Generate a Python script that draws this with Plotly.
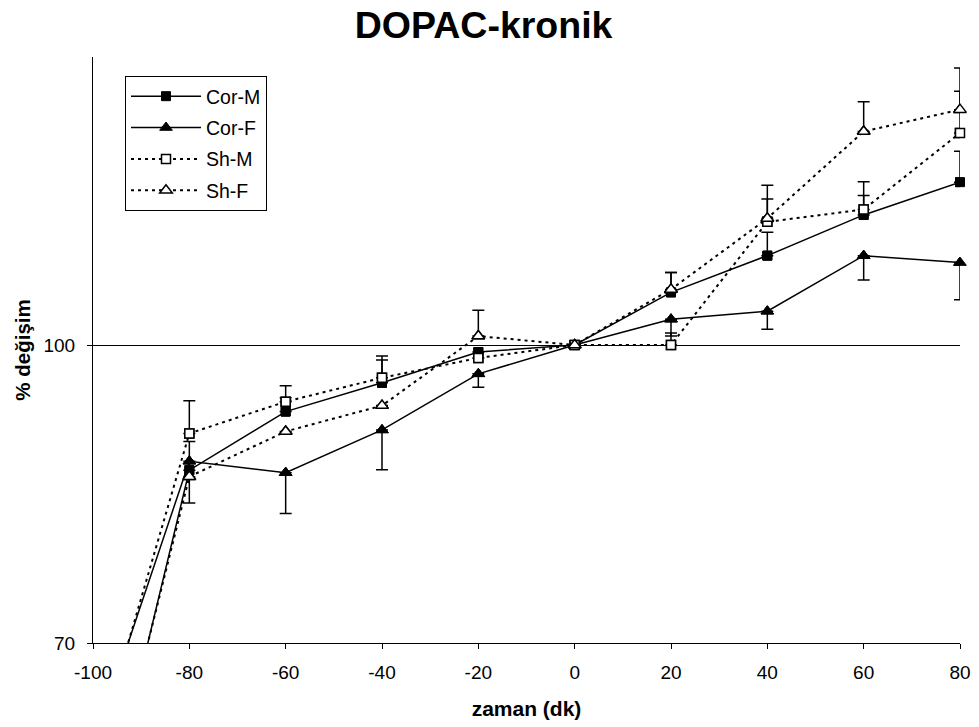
import plotly.graph_objects as go

# ---- data ----
zaman = [-100, -80, -60, -40, -20, 0, 20, 40, 60, 80]
cor_m = [47.0, 87.4, 93.3, 96.2, 99.3, 100.0, 105.3, 109.0, 113.1, 116.4]
cor_f = [59.5, 88.3, 87.15, 91.45, 97.1, 100.0, 102.6, 103.4, 109.0, 108.3]
sh_m = [57.9, 91.1, 94.3, 96.7, 98.7, 100.0, 100.0, 112.4, 113.65, 121.35]
sh_f = [47.8, 86.75, 91.3, 93.9, 100.9, 100.0, 105.6, 112.75, 121.5, 123.7]

# error bars (Cor-F drawn downwards, others upwards)
cor_m_err = [0, 2.9, 1.4, 2.3, 0.0, 0, 2.0, 2.35, 1.95, 3.1]
cor_f_err = [0, 4.2, 4.1, 4.0, 1.35, 0, 1.7, 1.8, 2.45, 3.75]
sh_m_err = [0, 3.3, 1.6, 2.2, 0.0, 0, 1.2, 2.3, 2.8, 4.2]
sh_f_err = [0, 0.0, 0.0, 0.0, 2.6, 0, 1.7, 3.35, 3.0, 4.2]

x_ticks = [-100, -80, -60, -40, -20, 0, 20, 40, 60, 80]
y_ticks = [70, 100]

FONT = "Liberation Sans, Arial, sans-serif"

series = [
    dict(name="Cor-M", y=cor_m, err=cor_m_err, down=False, dash="solid",
         marker=dict(symbol="square", size=9, color="black", line=dict(color="black", width=1))),
    dict(name="Cor-F", y=cor_f, err=cor_f_err, down=True, dash="solid",
         marker=dict(symbol="triangle-up", size=11, color="black", line=dict(color="black", width=1))),
    dict(name="Sh-M", y=sh_m, err=sh_m_err, down=False, dash="3px,4px",
         marker=dict(symbol="square", size=9, color="white", line=dict(color="black", width=1.5))),
    dict(name="Sh-F", y=sh_f, err=sh_f_err, down=False, dash="3px,4px",
         marker=dict(symbol="triangle-up", size=11, color="white", line=dict(color="black", width=1.5))),
]

fig = go.Figure()

# lines (clipped to the plot area), shown in legend
for s in series:
    fig.add_trace(go.Scatter(
        x=zaman, y=s["y"], name=s["name"], mode="lines+markers",
        line=dict(color="black", width=1.5 if s["dash"] == "solid" else 2, dash=s["dash"]),
        marker=s["marker"], cliponaxis=True, showlegend=True, legendgroup=s["name"],
    ))

# markers + error bars (not clipped so edge markers are whole)
for s in series:
    xs = zaman[1:]
    ys = s["y"][1:]
    es = s["err"][1:]
    zeros = [0] * len(es)
    err = dict(type="data", symmetric=False,
               array=zeros if s["down"] else es,
               arrayminus=es if s["down"] else zeros,
               color="black", thickness=1.5, width=6)
    fig.add_trace(go.Scatter(
        x=xs, y=ys, mode="markers", marker=s["marker"], error_y=err,
        cliponaxis=False, showlegend=False, hoverinfo="skip", legendgroup=s["name"],
    ))

fig.update_layout(
    width=979, height=727,
    margin=dict(l=93, r=19, t=57, b=84),
    paper_bgcolor="white", plot_bgcolor="white",
    font=dict(family=FONT, color="black", size=19),
    title=dict(text="<b>DOPAC-kronik</b>", font=dict(size=37.5, family=FONT, color="black"),
               x=0.494, xref="container", xanchor="center",
               y=1 - 25 / 727, yref="container", yanchor="middle"),
    legend=dict(x=(125 - 93) / 867, y=(643 - 76) / 586, xanchor="left", yanchor="top",
                bordercolor="black", borderwidth=1, bgcolor="white",
                font=dict(size=19.5, family=FONT, color="black"),
                itemwidth=70, tracegroupgap=3),
    showlegend=True,
)

fig.update_xaxes(
    range=[-100, 80], tickvals=x_ticks, ticktext=[str(v) for v in x_ticks],
    ticks="outside", ticklen=5, tickcolor="black", tickwidth=1,
    showline=True, linecolor="black", linewidth=1, automargin=False,
    showgrid=False, zeroline=False, ticklabelstandoff=7,
    tickfont=dict(size=19, family=FONT, color="black"),
    title=dict(text="<b>zaman (dk)</b>", font=dict(size=21, family=FONT, color="black"), standoff=19),
)
fig.update_yaxes(
    range=[70, 129], tickvals=y_ticks, ticktext=[str(v) for v in y_ticks],
    ticks="outside", ticklen=5, tickcolor="black", tickwidth=1,
    showline=True, linecolor="black", linewidth=1, automargin=False,
    showgrid=True, gridcolor="black", gridwidth=1, zeroline=False, ticklabelstandoff=8,
    tickfont=dict(size=19, family=FONT, color="black"),
    title=dict(text="<b>% değişim</b>", font=dict(size=20.5, family=FONT, color="black"), standoff=7),
)

fig.write_html("out.html")
